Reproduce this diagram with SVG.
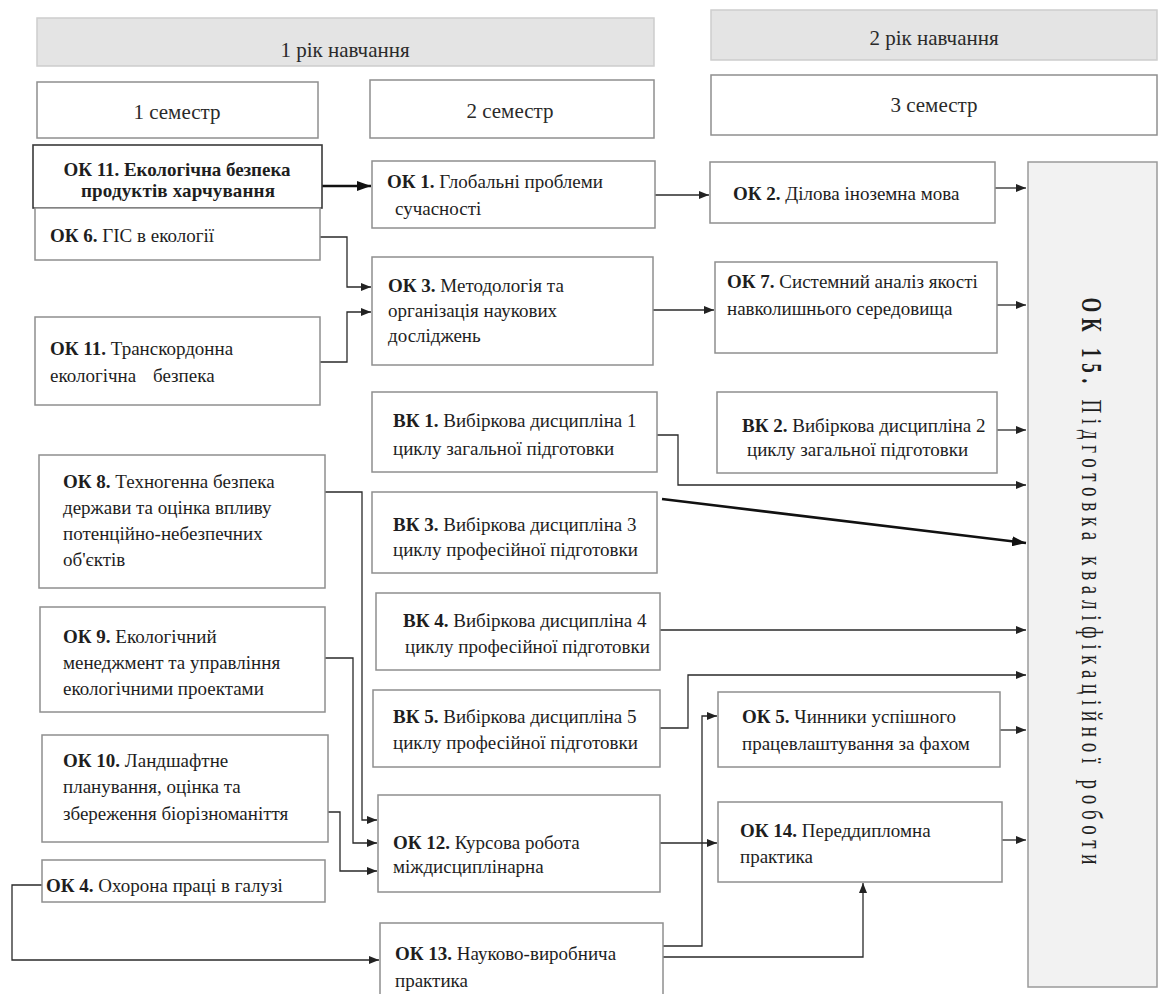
<svg xmlns="http://www.w3.org/2000/svg" width="1160" height="994" viewBox="0 0 1160 994">
<style>
.box{fill:#fff;stroke:#8f8f8f;stroke-width:1.5}
.dark{fill:#fff;stroke:#3a3a3a;stroke-width:1.6}
.hdr{fill:#e4e4e4;stroke:#cdcdcd;stroke-width:1.5}
.big{fill:#f2f2f2;stroke:#9a9a9a;stroke-width:1.5}
.t{font-family:"Liberation Serif","Times New Roman",serif;font-size:19px;fill:#1e1e1e}
.h{font-size:21px;fill:#2a2a2a}
.b{font-weight:bold}
.c{fill:none;stroke:#2a2a2a;stroke-width:1.3}
.ck{fill:none;stroke:#111;stroke-width:2.6}
</style>
<defs>
<marker id="arr" viewBox="0 0 10 8" refX="10" refY="4" markerWidth="10" markerHeight="8" markerUnits="userSpaceOnUse" orient="auto"><path d="M0,0 L10,4 L0,8 z" fill="#222"/></marker>
<marker id="arrB" viewBox="0 0 14 10" refX="14" refY="5" markerWidth="14" markerHeight="10" markerUnits="userSpaceOnUse" orient="auto"><path d="M0,0 L14,5 L0,10 z" fill="#111"/></marker>
</defs>
<rect width="1160" height="994" fill="#fff"/>

<g id="year1"><rect class="hdr" x="37" y="18" width="617" height="48"/><text class="t h" x="345" y="57" text-anchor="middle">1 рік навчання</text></g>
<g id="year2"><rect class="hdr" x="711" y="10" width="446" height="50"/><text class="t h" x="934" y="45" text-anchor="middle">2 рік навчання</text></g>
<g id="sem1"><rect class="box" x="37" y="82" width="281" height="56"/><text class="t h" x="177" y="119" text-anchor="middle">1 семестр</text></g>
<g id="sem2"><rect class="box" x="370" y="80" width="284" height="58"/><text class="t h" x="510" y="118" text-anchor="middle">2 семестр</text></g>
<g id="sem3"><rect class="box" x="711" y="75" width="446" height="60"/><text class="t h" x="934" y="112" text-anchor="middle">3 семестр</text></g>

<g id="connectors">
<path class="ck" d="M322,186 H371" marker-end="url(#arrB)"/>
<path class="c" d="M320,237 H347 V287 H371" marker-end="url(#arr)"/>
<path class="c" d="M320,362 H347 V312 H371" marker-end="url(#arr)"/>
<path class="c" d="M655,195 H709" marker-end="url(#arr)"/>
<path class="c" d="M653,310 H714" marker-end="url(#arr)"/>
<path class="c" d="M995,188 H1026" marker-end="url(#arr)"/>
<path class="c" d="M997,305 H1026" marker-end="url(#arr)"/>
<path class="c" d="M997,430 H1026" marker-end="url(#arr)"/>
<path class="c" d="M657,435 H678 V485 H1026" marker-end="url(#arr)"/>
<path class="ck" d="M662,499 L1026,543" marker-end="url(#arrB)"/>
<path class="c" d="M660,630 H1026" marker-end="url(#arr)"/>
<path class="c" d="M660,728 H688 V675 H1026" marker-end="url(#arr)"/>
<path class="c" d="M1000,730 H1026" marker-end="url(#arr)"/>
<path class="c" d="M1002,840 H1026" marker-end="url(#arr)"/>
<path class="c" d="M660,843 H717" marker-end="url(#arr)"/>
<path class="c" d="M663,946 H702 V716 H717" marker-end="url(#arr)"/>
<path class="c" d="M663,957 H863 V883" marker-end="url(#arr)"/>
<path class="c" d="M325,492 H362 V820 H377" marker-end="url(#arr)"/>
<path class="c" d="M325,658 H353 V843 H377" marker-end="url(#arr)"/>
<path class="c" d="M328,812 H340 V871 H377" marker-end="url(#arr)"/>
<path class="c" d="M42,885 H12 V960 H379" marker-end="url(#arr)"/>
</g>

<g id="ok11a"><rect class="dark" x="33" y="145" width="289" height="63"/>
<text class="t b" x="177" y="176" text-anchor="middle" font-size="15" textLength="227" lengthAdjust="spacing">ОК 11. Екологічна безпека</text>
<text class="t b" x="178" y="197" text-anchor="middle" font-size="15" textLength="194" lengthAdjust="spacing">продуктів харчування</text></g>
<g id="ok6"><rect class="box" x="35" y="208" width="285" height="52"/>
<text class="t" x="50" y="242"><tspan class="b">ОК 6.</tspan> ГІС в екології</text></g>
<g id="ok11b"><rect class="box" x="35" y="317" width="285" height="88"/>
<text class="t" x="50" y="355"><tspan class="b">ОК 11.</tspan> Транскордонна</text>
<text class="t" x="50" y="382">екологічна<tspan x="153">безпека</tspan></text></g>
<g id="ok8"><rect class="box" x="39" y="455" width="286" height="133"/>
<text class="t" x="63" y="488"><tspan class="b">ОК 8.</tspan> Техногенна безпека</text>
<text class="t" x="63" y="514">держави та оцінка впливу</text>
<text class="t" x="63" y="540">потенційно-небезпечних</text>
<text class="t" x="63" y="566">об'єктів</text></g>
<g id="ok9"><rect class="box" x="40" y="607" width="285" height="105"/>
<text class="t" x="63" y="643"><tspan class="b">ОК 9.</tspan> Екологічний</text>
<text class="t" x="63" y="669">менеджмент  та управління</text>
<text class="t" x="63" y="695">екологічними проектами</text></g>
<g id="ok10"><rect class="box" x="42" y="735" width="286" height="107"/>
<text class="t" x="63" y="767"><tspan class="b">ОК 10.</tspan> Ландшафтне</text>
<text class="t" x="63" y="793">планування, оцінка та</text>
<text class="t" x="63" y="820">збереження біорізноманіття</text></g>
<g id="ok4"><rect class="box" x="42" y="860" width="283" height="42"/>
<text class="t" x="46" y="892"><tspan class="b">ОК 4.</tspan> Охорона праці в галузі</text></g>

<g id="ok1"><rect class="box" x="372" y="161" width="283" height="67"/>
<text class="t" x="387" y="188"><tspan class="b">ОК 1.</tspan> Глобальні  проблеми</text>
<text class="t" x="395" y="215">сучасності</text></g>
<g id="ok3"><rect class="box" x="372" y="257" width="281" height="108"/>
<text class="t" x="388" y="292"><tspan class="b">ОК 3.</tspan> Методологія  та</text>
<text class="t" x="388" y="317">організація  наукових</text>
<text class="t" x="388" y="342">досліджень</text></g>
<g id="vk1"><rect class="box" x="372" y="392" width="285" height="80"/>
<text class="t" x="393" y="427"><tspan class="b">ВК 1.</tspan> Вибіркова  дисципліна 1</text>
<text class="t" x="393" y="455">циклу загальної підготовки</text></g>
<g id="vk3"><rect class="box" x="372" y="492" width="285" height="81"/>
<text class="t" x="393" y="531"><tspan class="b">ВК 3.</tspan> Вибіркова  дисципліна 3</text>
<text class="t" x="393" y="556">циклу професійної підготовки</text></g>
<g id="vk4"><rect class="box" x="376" y="593" width="284" height="77"/>
<text class="t" x="403" y="627"><tspan class="b">ВК 4.</tspan> Вибіркова  дисципліна 4</text>
<text class="t" x="405" y="653">циклу професійної підготовки</text></g>
<g id="vk5"><rect class="box" x="373" y="690" width="287" height="77"/>
<text class="t" x="393" y="723"><tspan class="b">ВК 5.</tspan> Вибіркова  дисципліна 5</text>
<text class="t" x="393" y="749">циклу професійної підготовки</text></g>
<g id="ok12"><rect class="box" x="378" y="795" width="282" height="97"/>
<text class="t" x="393" y="849"><tspan class="b">ОК 12.</tspan> Курсова робота</text>
<text class="t" x="393" y="873">міждисциплінарна</text></g>
<g id="ok13"><rect class="box" x="380" y="923" width="283" height="82"/>
<text class="t" x="395" y="960"><tspan class="b">ОК 13.</tspan> Науково-виробнича</text>
<text class="t" x="395" y="987">практика</text></g>

<g id="ok2"><rect class="box" x="710" y="162" width="285" height="61"/>
<text class="t" x="733" y="200"><tspan class="b">ОК 2.</tspan> Ділова іноземна мова</text></g>
<g id="ok7"><rect class="box" x="715" y="262" width="282" height="91"/>
<text class="t" x="727" y="288"><tspan class="b">ОК 7.</tspan> Системний  аналіз якості</text>
<text class="t" x="727" y="315">навколишнього середовища</text></g>
<g id="vk2"><rect class="box" x="717" y="392" width="280" height="81"/>
<text class="t" x="742" y="432"><tspan class="b">ВК 2.</tspan> Вибіркова  дисципліна 2</text>
<text class="t" x="747" y="456">циклу загальної підготовки</text></g>
<g id="ok5"><rect class="box" x="718" y="692" width="282" height="75"/>
<text class="t" x="742" y="723"><tspan class="b">ОК 5.</tspan> Чинники  успішного</text>
<text class="t" x="742" y="750">працевлаштування  за фахом</text></g>
<g id="ok14"><rect class="box" x="718" y="802" width="284" height="80"/>
<text class="t" x="740" y="837"><tspan class="b">ОК 14.</tspan> Переддипломна</text>
<text class="t" x="740" y="863">практика</text></g>

<g id="ok15"><rect class="big" x="1028" y="162" width="129" height="825"/>
<text class="t" transform="translate(1082,581) rotate(90) scale(1,1.5)" text-anchor="middle" font-size="26" textLength="567" lengthAdjust="spacing"><tspan class="b">ОК 15.</tspan> Підготовка кваліфікаційної роботи</text></g>
</svg>
